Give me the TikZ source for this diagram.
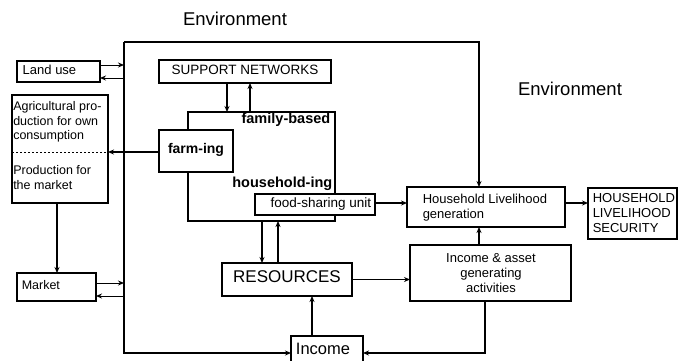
\documentclass[tikz,border=0pt]{standalone}
\usepackage{fontspec}
\setmainfont{Liberation Sans}
\usetikzlibrary{arrows.meta}
\newcommand{\fsz}[1]{\fontsize{#1}{#1}\selectfont}
\begin{document}
\begin{tikzpicture}[x=1pt,y=-1pt,
  line width=1.5pt,
  box/.style={draw, fill=white, inner sep=0pt, outer sep=0pt},
  arr/.style={-{Stealth[length=6pt,width=5pt]}},
  thinarr/.style={arr, line width=1pt},
  lbl/.style={inner sep=0pt, text height=0.72em, text depth=0.2em},
]
\useasboundingbox[fill=white] (0,0) rectangle (678,360);

% titles
\node[lbl, font=\fsz{18.5}] (env1) at (235,23) {Environment};
\node[lbl, font=\fsz{18.5}] (env2) at (570,93) {Environment};

% household region (drawn behind boxes)
\coordinate (rtl) at (188,112);
\coordinate (rbr) at (335,221);
\draw (rtl) rectangle (rbr);

% boxes
\node[box, minimum width=83, minimum height=21] (landuse) at (58.5,71.5) {};
\node[box, minimum width=96, minimum height=108] (agri) at (60,149) {};
\node[box, minimum width=79, minimum height=28] (market) at (56.5,287) {};
\node[box, minimum width=172, minimum height=23] (sn) at (245,71.5) {};
\node[box, minimum width=74, minimum height=42] (farming) at (196,151) {};
\node[box, minimum width=120, minimum height=21] (fs) at (315,204.5) {};
\node[box, minimum width=130, minimum height=33] (res) at (287,279.5) {};
\node[box, minimum width=72, minimum height=34] (income) at (327,353) {};
\node[box, minimum width=161, minimum height=56] (iag) at (490.5,273) {};
\node[box, minimum width=158, minimum height=40] (hlg) at (486,207) {};
\node[box, minimum width=89, minimum height=51] (hhls) at (632.5,213.5) {};

% texts in boxes
\node[lbl, anchor=west, font=\fsz{13}] (tland) at (22,71.5) {Land use};
\node[lbl, anchor=west, font=\fsz{12.5}] (ta1) at (12.5,108) {Agricultural pro-};
\node[lbl, anchor=west, font=\fsz{12.5}] (ta2) at (12.5,122.5) {duction for own};
\node[lbl, anchor=west, font=\fsz{12.5}] (ta3) at (12.5,137) {consumption};
\node[lbl, anchor=west, font=\fsz{12.5}] (ta4) at (12.5,172) {Production for};
\node[lbl, anchor=west, font=\fsz{12.5}] (ta5) at (12.5,187) {the market};
\draw[line width=0.8pt, dashed, dash pattern=on 2pt off 2pt] (agri.west |- 0,152) -- (agri.east |- 0,152);
\node[lbl, anchor=west, font=\fsz{12.5}] (tmarket) at (21,287) {Market};
\node[lbl, font=\fsz{13.5}] (tsn) at (sn.center) {SUPPORT NETWORKS};
\node[lbl, font=\bfseries\fsz{14}] (tfarm) at (farming.center) {farm-ing};
\node[lbl, anchor=east, font=\bfseries\fsz{14.5}] (tfam) at (331,121) {family-based};
\node[lbl, anchor=east, font=\bfseries\fsz{14.5}] (thh) at (333,185) {household-ing};
\node[lbl, anchor=east, font=\fsz{13.5}] (tfs) at (372,204.5) {food-sharing unit};
\node[lbl, font=\fsz{17}] (tres) at (res.center) {RESOURCES};
\node[lbl, font=\fsz{16.5}] (tinc) at (323,352) {Income};
\node[lbl, font=\fsz{13}] (ti1) at (491,260) {Income \& asset};
\node[lbl, font=\fsz{13}] (ti2) at (491,275) {generating};
\node[lbl, font=\fsz{13}] (ti3) at (491,290) {activities};
\node[lbl, anchor=west, font=\fsz{13}] (th1) at (422,201) {Household Livelihood};
\node[lbl, anchor=west, font=\fsz{13}] (th2) at (422,216) {generation};
\node[lbl, anchor=west, font=\fsz{13}] (ts1) at (592,200) {HOUSEHOLD};
\node[lbl, anchor=west, font=\fsz{13}] (ts2) at (592,215) {LIVELIHOOD};
\node[lbl, anchor=west, font=\fsz{13}] (ts3) at (592,230) {SECURITY};

% environment frame
\coordinate (ftl) at (124,42);
\coordinate (ftr) at (479,42);
\coordinate (fbl) at (124,353);
\draw[arr] (ftl) -- (ftr) -- (ftr |- hlg.north);
\draw[arr] (ftl) -- (fbl) -- (fbl -| income.west);

% land use
\draw[thinarr] (landuse.east |- 0,65) -- (ftl |- 0,65);
\draw[thinarr] (ftl |- 0,78) -- (landuse.east |- 0,78);
% farming -> agri
\draw[arr] (farming.west |- 0,152) -- (agri.east |- 0,152);
% agri -> market
\draw[arr] (agri.south -| 57,0) -- (market.north -| 57,0);
% market arrows
\draw[thinarr] (market.east |- 0,283) -- (ftl |- 0,283);
\draw[thinarr] (ftl |- 0,296) -- (market.east |- 0,296);
% support networks
\draw[arr] (sn.south -| 227,0) -- (rtl -| 227,0);
\draw[arr] (rtl -| 250,0) -- (sn.south -| 250,0);
% region <-> resources
\draw[arr] (rbr -| 262,0) -- (res.north -| 262,0);
\draw[arr] (res.north -| 278,0) -- (rbr -| 278,0);
% food-sharing -> hlg
\draw[arr] (fs.east |- 0,203) -- (hlg.west |- 0,203);
% hlg -> hhls
\draw[arr] (hlg.east |- 0,203) -- (hhls.west |- 0,203);
% resources -> iag
\draw[arr] (res.east) -- (res.east -| iag.west);
% income -> resources
\draw[arr] (income.north -| 312,0) -- (res.south -| 312,0);
% iag -> hlg
\draw[arr] (iag.north -| 479,0) -- (hlg.south -| 479,0);
% iag -> income
\draw[arr] (iag.south -| 485,0) -- (485,353) -- (income.east |- 0,353);
\end{tikzpicture}
\end{document}
